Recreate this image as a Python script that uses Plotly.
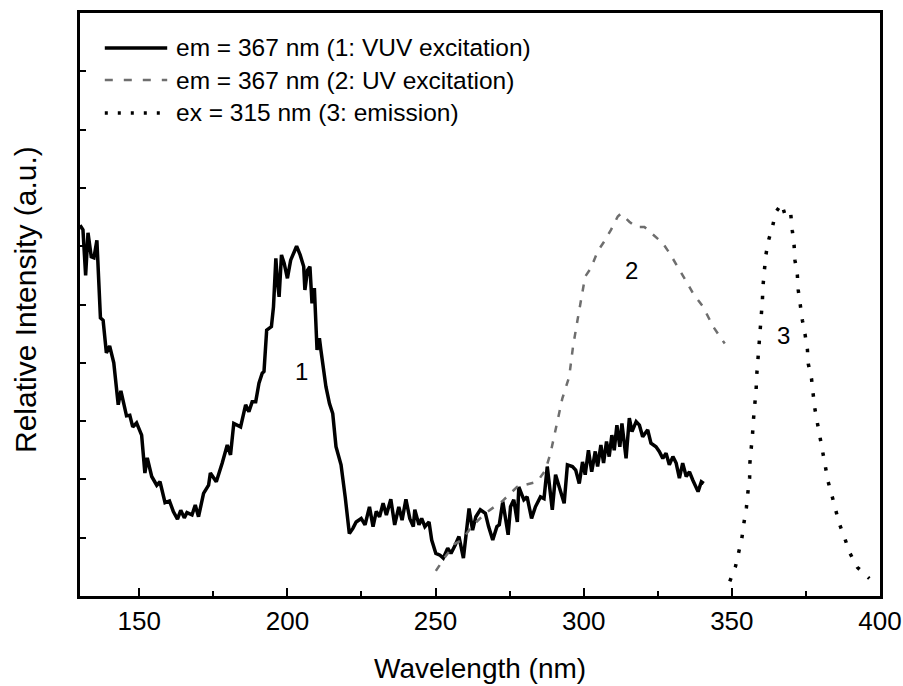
import plotly.graph_objects as go

# Curve 1: em = 367 nm (1: VUV excitation)
x1 = [130, 131, 131.9, 132.7, 133.8, 134.7, 135.7, 136.9, 137.8, 138.9, 140, 141.4, 142.9, 143.8,
      145.7, 146.8, 147.8, 149.1, 150.8, 151.9, 152.7, 154.2, 155.9, 157, 158.7, 160.2, 161.5,
      162.9, 164, 165.2, 166.1, 167.8, 168.9, 170, 171.7, 173.4, 174, 176, 178, 179.7, 180.8,
      181.9, 184.2, 185.9, 187, 188.1, 189.3, 190.4, 191.5, 192.1, 193, 194.6, 195.3, 196.1,
      196.6, 197.2, 198, 198.9, 200, 201.1, 203.1, 204.3, 205.5, 205.9, 206.8, 207.6, 208.3,
      209.1, 210, 210.8, 211.3, 213, 214.2, 215.3, 216.4, 218.1, 219.5, 220.9, 222.1, 223.2,
      224.9, 226.2, 227.7, 228.9, 230, 231.1, 232.3, 233.4, 234.9, 236.2, 237.6, 238.7, 240,
      241.3, 242.5, 243, 244.4, 245.3, 246.4, 247.8, 248.7, 250.1, 251.5, 252.6, 254.1, 255.2,
      256.6, 257.9, 259.4, 260.2, 261.3, 262.5, 263.6, 265.1, 266.8, 267.9, 269.3, 270.7, 271.5,
      272.7, 273.6, 274.5, 275.3, 276.4, 277.6, 278.1, 279.8, 280.9, 282.4, 283.7, 285.4, 286.6,
      287.7, 289.4, 290.5, 291.7, 293.4, 294.5, 296.2, 297.3, 298.5, 299.6, 300.5, 301.6, 302.7,
      303.9, 304.7, 305.8, 306.7, 307.7, 308.6, 309.5, 310.3, 311.2, 312.2, 312.9, 314.3, 315.4,
      316.3, 317.7, 318.8, 319.9, 321.6, 322.7, 324.4, 325.5, 326.7, 327.8, 328.9, 330.1, 331.2,
      332.3, 333.4, 334.6, 335.7, 336.8, 338.6, 339.7, 340.5]
y1 = [6.36, 6.28, 5.5, 6.23, 5.82, 5.8, 6.1, 4.77, 4.73, 4.17, 4.29, 4.0, 3.28, 3.52,
      3.09, 3.1, 2.9, 2.97, 2.76, 2.11, 2.37, 2.05, 1.9, 1.96, 1.6, 1.63, 1.45,
      1.32, 1.47, 1.34, 1.43, 1.39, 1.56, 1.36, 1.76, 1.9, 2.11, 1.96, 2.28, 2.59, 2.42,
      2.96, 2.9, 3.28, 3.16, 3.33, 3.33, 3.65, 3.82, 3.85, 4.56, 4.62, 4.96, 5.79,
      5.42, 5.13, 5.85, 5.71, 5.45, 5.76, 6.0, 5.85, 5.65, 5.25, 5.59, 5.65, 5.02,
      5.28, 4.22, 4.42, 4.22, 3.59, 3.3, 3.13, 2.56, 2.25, 1.7, 1.07, 1.16, 1.27,
      1.33, 1.22, 1.53, 1.19, 1.45, 1.36, 1.59, 1.39, 1.66, 1.22, 1.53, 1.3, 1.66,
      1.33, 1.19, 1.48, 1.22, 1.33, 1.19, 1.27, 0.96, 0.73, 0.7, 0.65, 0.82, 0.73,
      0.87, 1.02, 0.65, 1.07, 1.5, 1.13, 1.36, 1.48, 1.42, 1.19, 0.96, 1.19, 1.22,
      1.62, 1.36, 1.05, 1.53, 1.65, 1.27, 1.87, 1.65, 1.7, 1.33, 1.53, 1.7, 1.67,
      2.22, 1.48, 2.08, 1.87, 1.59, 2.25, 2.22, 2.16, 1.93, 2.3, 2.08, 2.5, 2.13,
      2.48, 2.22, 2.59, 2.28, 2.65, 2.39, 2.76, 2.5, 2.93, 2.56, 2.96, 2.36, 3.05,
      2.82, 2.99, 2.93, 2.73, 2.85, 2.62, 2.56, 2.48, 2.36, 2.45, 2.25, 2.39, 2.28,
      2.02, 2.28, 2.05, 2.13, 1.99, 1.79, 1.96, 1.93]

# Curve 2: em = 367 nm (2: UV excitation)
x2 = [250.1, 253.2, 256.6, 258.9, 262.2, 266.8, 272.4, 277.5, 284.3, 287.1, 288.8, 291.1, 292.8,
      295.1, 296.4, 297.9, 299, 300.5, 302.4, 304.7, 306.9, 309.2, 311.5, 312.6, 315.4, 317.7,
      320.5, 322.8, 326.7, 329, 331.8, 334.7, 336.9, 340.3, 343.7, 345.4, 347.6]
y2 = [0.43, 0.67, 0.9, 0.96, 1.19, 1.42, 1.62, 1.87, 1.96, 2.16, 2.45, 3.02, 3.39,
      3.76, 4.28, 4.73, 5.02, 5.48, 5.62, 5.91, 6.08, 6.28, 6.51, 6.56, 6.42, 6.33,
      6.33, 6.22, 6.05, 5.88, 5.65, 5.39, 5.19, 4.96, 4.62, 4.5, 4.33]

# Curve 3: ex = 315 nm (3: emission)
x3 = [349.3, 351.2, 352.4, 353.4, 354.1, 354.9, 355.4, 356, 356.1, 356.6, 357, 357.3, 357.8,
      358.2, 358.4, 358.8, 359.3, 359.7, 360, 360.3, 360.5, 360.9, 361.4, 362.2, 363.7, 364.8,
      366.8, 368.3, 369.9, 370.4, 371, 371.3, 372.1, 372.4, 373, 373.8, 374.7, 375.5, 375.8,
      376.9, 377.4, 378, 378.9, 379.8, 380.6, 381.7, 382.5, 383.7, 384.8, 386.2, 388.1, 389.8,
      392.4, 396.4]
y3 = [0.25, 0.5, 0.77, 1.0, 1.26, 1.51, 1.77, 2.03, 2.29, 2.53, 2.79, 3.03, 3.29,
      3.55, 3.79, 4.05, 4.29, 4.55, 4.8, 5.06, 5.31, 5.56, 5.82, 6.07, 6.33, 6.58,
      6.73, 6.48, 6.54, 6.27, 6.02, 5.76, 5.51, 5.25, 4.99, 4.73, 4.49, 4.23, 3.98,
      3.72, 3.48, 3.22, 2.96, 2.72, 2.46, 2.21, 1.96, 1.74, 1.5, 1.25, 0.99, 0.74,
      0.49, 0.3]

legend_labels = ["em = 367 nm (1: VUV excitation)",
                 "em = 367 nm (2: UV excitation)",
                 "ex = 315 nm (3: emission)"]
curve_labels = ["1", "2", "3"]
curve_label_x = [204.8, 316.1, 367.4]
curve_label_y = [3.85, 5.59, 4.47]
x_title = "Wavelength (nm)"
y_title = "Relative Intensity (a.u.)"

FONT = "Arial, Liberation Sans, sans-serif"
styles = [dict(color="black", width=3.5, dash="solid"),
          dict(color="#6e6e6e", width=2.5, dash="7px,9px"),
          dict(color="black", width=3.5, dash="3.5px,11.5px")]
legend_dash = ["solid", "8px,11px", "3px,10px"]

fig = go.Figure()
for (xs, ys), st, name in zip([(x1, y1), (x2, y2), (x3, y3)], styles, legend_labels):
    fig.add_trace(go.Scatter(x=xs, y=ys, mode="lines", name=name, line=st, showlegend=False,
                             hoverinfo="skip"))

# manual legend (long line samples like the original)
leg_y = [0.94, 0.885, 0.8285]
for ly, st, ld, name in zip(leg_y, styles, legend_dash, legend_labels):
    fig.add_shape(type="line", xref="paper", yref="paper", x0=0.031, x1=0.109, y0=ly, y1=ly,
                  line=dict(color=st["color"], width=st["width"], dash=ld))
    fig.add_annotation(xref="paper", yref="paper", x=0.117, y=ly, text=name, showarrow=False,
                       xanchor="left", yanchor="middle", font=dict(family=FONT, size=24.5, color="black"))

for t, cx, cy in zip(curve_labels, curve_label_x, curve_label_y):
    fig.add_annotation(x=cx, y=cy, text=t, showarrow=False, xanchor="center", yanchor="middle",
                       font=dict(family=FONT, size=24, color="black"))

# axis titles as annotations (fixed placement)
fig.add_annotation(xref="paper", yref="paper", x=0.5, y=-0.1252, text=x_title, showarrow=False,
                   xanchor="center", yanchor="middle", font=dict(family=FONT, size=28, color="black"))
fig.add_annotation(xref="paper", yref="paper", x=-0.06875, y=0.5077, text=y_title, showarrow=False,
                   textangle=-90, xanchor="center", yanchor="middle",
                   font=dict(family=FONT, size=30, color="black"))

fig.update_layout(
    width=903, height=686,
    margin=dict(l=80, r=23, t=13, b=90, autoexpand=False),
    plot_bgcolor="white", paper_bgcolor="white",
    font=dict(family=FONT, color="black"),
)
fig.update_xaxes(range=[130, 400], tick0=0, dtick=50, ticks="inside", ticklen=8, tickwidth=2,
                 tickcolor="black", showline=True, linewidth=2.5, linecolor="black", mirror=True,
                 showgrid=False, zeroline=False, automargin=False,
                 tickfont=dict(family=FONT, size=26, color="black"),
                 minor=dict(ticks="inside", ticklen=5, tickwidth=2, tickcolor="black", dtick=25, tick0=0,
                            showgrid=False))
fig.update_yaxes(range=[0, 10], tick0=0, dtick=1, ticks="inside", ticklen=6, tickwidth=2,
                 tickcolor="black", showline=True, linewidth=2.5, linecolor="black", mirror=True,
                 showgrid=False, zeroline=False, showticklabels=False, automargin=False)

fig.write_html("out.html", config={"displayModeBar": False},
               post_script="document.body.style.margin='0';document.body.style.padding='0';")
